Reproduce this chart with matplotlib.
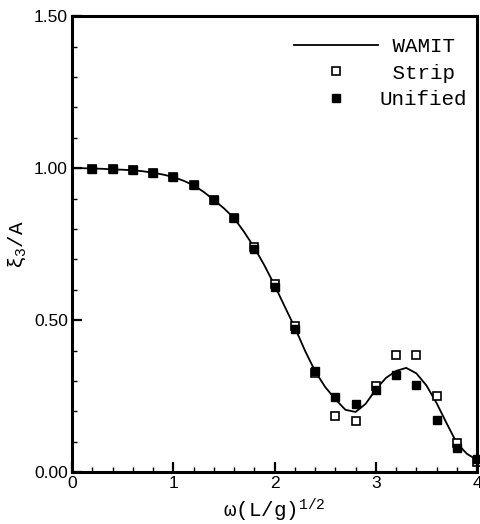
import matplotlib.pyplot as plt
import numpy as np
from matplotlib.ticker import MultipleLocator, AutoMinorLocator, FormatStrFormatter

plt.rcParams['mathtext.fontset'] = 'custom'
plt.rcParams['mathtext.rm'] = 'Liberation Mono'
plt.rcParams['mathtext.it'] = 'Liberation Mono'
plt.rcParams['mathtext.bf'] = 'Liberation Mono'

w_x = [0.0, 0.1, 0.2, 0.3, 0.4, 0.5, 0.6, 0.7, 0.8, 0.9, 1.0,
       1.1, 1.2, 1.3, 1.4, 1.5, 1.6, 1.7, 1.8, 1.9, 2.0,
       2.1, 2.2, 2.3, 2.4, 2.5, 2.6, 2.7, 2.8, 2.9, 3.0,
       3.1, 3.2, 3.3, 3.4, 3.5, 3.6, 3.7, 3.8, 3.9, 4.0]
w_y = [1.0, 1.0, 0.999, 0.998, 0.996, 0.995, 0.993, 0.99, 0.985, 0.979, 0.971,
       0.959, 0.944, 0.922, 0.896, 0.868, 0.836, 0.79, 0.739, 0.68, 0.615,
       0.545, 0.476, 0.40, 0.332, 0.28, 0.24, 0.205, 0.198, 0.225, 0.272,
       0.31, 0.333, 0.343, 0.325, 0.285, 0.227, 0.16, 0.095, 0.06, 0.04]

freq = [0.2, 0.4, 0.6, 0.8, 1.0, 1.2, 1.4, 1.6, 1.8, 2.0,
        2.2, 2.4, 2.6, 2.8, 3.0, 3.2, 3.4, 3.6, 3.8, 4.0]
strip = [0.998, 0.996, 0.993, 0.985, 0.971, 0.944, 0.896, 0.836, 0.742, 0.62,
         0.482, 0.327, 0.185, 0.169, 0.283, 0.385, 0.385, 0.249, 0.097, 0.034]
unified = [0.998, 0.996, 0.993, 0.985, 0.971, 0.944, 0.896, 0.836, 0.735, 0.61,
           0.472, 0.332, 0.246, 0.225, 0.269, 0.319, 0.286, 0.172, 0.080, 0.042]

fig = plt.figure(figsize=(4.8, 5.24), dpi=100)
ax = fig.add_axes([0.15, 0.099, 0.844, 0.870])

ax.plot(w_x, w_y, color='black', lw=1.3, label=' WAMIT ')
ax.plot(freq, strip, 's', ms=5.5, mfc='white', mec='black', mew=1.2,
        label=' Strip ', clip_on=False)
ax.plot(freq, unified, 's', ms=6, mfc='black', mec='black',
        label='Unified', clip_on=False)

ax.set_xlim(0, 4)
ax.set_ylim(0, 1.5)
ax.xaxis.set_major_locator(MultipleLocator(1))
ax.yaxis.set_major_locator(MultipleLocator(0.5))
ax.xaxis.set_minor_locator(AutoMinorLocator(5))
ax.yaxis.set_minor_locator(AutoMinorLocator(5))
ax.yaxis.set_major_formatter(FormatStrFormatter('%.2f'))
ax.tick_params(which='both', direction='in', top=False, right=False)
ax.tick_params(which='major', length=7, width=1.6, labelsize=12.5, pad=3)
ax.tick_params(which='minor', length=3.5, width=1.0)
for lab in ax.get_xticklabels() + ax.get_yticklabels():
    lab.set_family('Liberation Sans')
for s in ax.spines.values():
    s.set_linewidth(2.2)

ax.set_xlabel(r'$\omega$(L/g)$^{1/2}$', family='Liberation Mono',
              fontsize=15, labelpad=4)
ax.set_ylabel(r'$\xi_3$/A', family='Liberation Mono', fontsize=15, labelpad=4)

leg = ax.legend(loc='upper right', bbox_to_anchor=(1 - 10 / 405, 1 - 21 / 456),
                frameon=False, handlelength=4.0, handletextpad=0.1,
                labelspacing=0.35, borderaxespad=0, borderpad=0,
                prop={'family': 'Liberation Mono', 'size': 15})

fig.savefig('out.png', dpi=100)
